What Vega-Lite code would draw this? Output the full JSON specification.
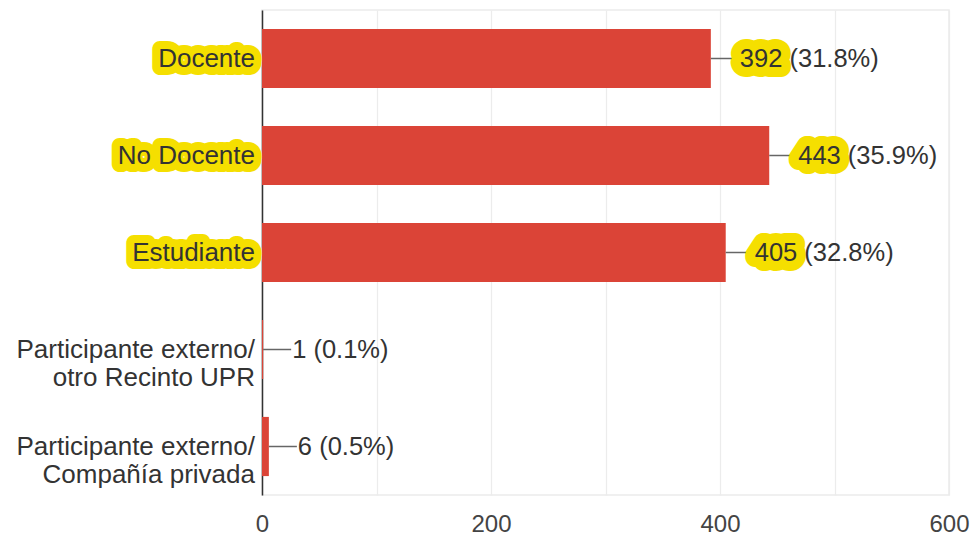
{
  "$schema": "https://vega.github.io/schema/vega-lite/v6.json",
  "width": 687,
  "height": 485,
  "autosize": {"type": "none"},
  "padding": {"left": 262, "top": 10, "right": 26, "bottom": 43},
  "background": "white",
  "config": {
    "view": {"stroke": "#ebebeb", "strokeWidth": 1.5},
    "font": "Liberation Sans"
  },
  "data": {
    "values": [
      {"category": "Docente", "count": 392, "label": "392 (31.8%)", "countText": "392", "highlight": true},
      {"category": "No Docente", "count": 443, "label": "443 (35.9%)", "countText": "443", "highlight": true},
      {"category": "Estudiante", "count": 405, "label": "405 (32.8%)", "countText": "405", "highlight": true},
      {"category": "Participante externo/\notro Recinto UPR", "count": 1, "label": "1 (0.1%)", "countText": "1", "highlight": false},
      {"category": "Participante externo/\nCompañía privada", "count": 6, "label": "6 (0.5%)", "countText": "6", "highlight": false}
    ]
  },
  "encoding": {
    "y": {
      "field": "category",
      "type": "nominal",
      "sort": null,
      "scale": {"paddingInner": 0.39, "paddingOuter": 0.195},
      "axis": {"labels": false, "ticks": false, "title": null, "domain": true, "domainColor": "#333333", "domainWidth": 1.5, "grid": false}
    }
  },
  "layer": [
    {
      "mark": {"type": "bar", "color": "#db4437"},
      "encoding": {
        "x": {
          "field": "count",
          "type": "quantitative",
          "scale": {"domain": [0, 600], "nice": false},
          "axis": {
            "values": [0, 100, 200, 300, 400, 500, 600],
            "labelExpr": "datum.value % 200 == 0 ? datum.label : ''",
            "title": null,
            "domain": false,
            "ticks": false,
            "grid": true,
            "gridColor": "#ececec",
            "gridWidth": 1.2,
            "labelFontSize": 24,
            "labelColor": "#444444",
            "labelPadding": 17,
            "labelFlush": false,
            "labelFont": "Liberation Sans"
          }
        }
      }
    },
    {
      "mark": {"type": "rule", "color": "#666666", "strokeWidth": 1.5, "x2Offset": 28},
      "encoding": {
        "x": {"field": "count", "type": "quantitative"},
        "x2": {"field": "count"}
      }
    },
    {
      "transform": [{"filter": "datum.highlight"}],
      "mark": {"type": "text", "align": "left", "baseline": "middle", "dx": 29, "fontSize": 25.5, "fill": "#f5df00", "stroke": "#f5df00", "strokeWidth": 20, "strokeJoin": "round"},
      "encoding": {
        "x": {"field": "count", "type": "quantitative"},
        "text": {"field": "countText"}
      }
    },
    {
      "mark": {"type": "text", "align": "left", "baseline": "middle", "dx": 29, "fontSize": 25.5, "color": "#333333"},
      "encoding": {
        "x": {"field": "count", "type": "quantitative"},
        "text": {"field": "label"}
      }
    },
    {
      "transform": [{"filter": "datum.highlight"}],
      "mark": {"type": "text", "align": "right", "baseline": "middle", "dx": -7, "fontSize": 26, "fill": "#f5df00", "stroke": "#f5df00", "strokeWidth": 16, "strokeJoin": "round", "lineBreak": "\n"},
      "encoding": {
        "x": {"datum": 0, "type": "quantitative"},
        "text": {"field": "category"}
      }
    },
    {
      "mark": {"type": "text", "align": "right", "baseline": "middle", "dx": -7, "fontSize": 26, "color": "#333333", "lineBreak": "\n", "lineHeight": 28},
      "encoding": {
        "x": {"datum": 0, "type": "quantitative"},
        "text": {"field": "category"}
      }
    }
  ]
}
